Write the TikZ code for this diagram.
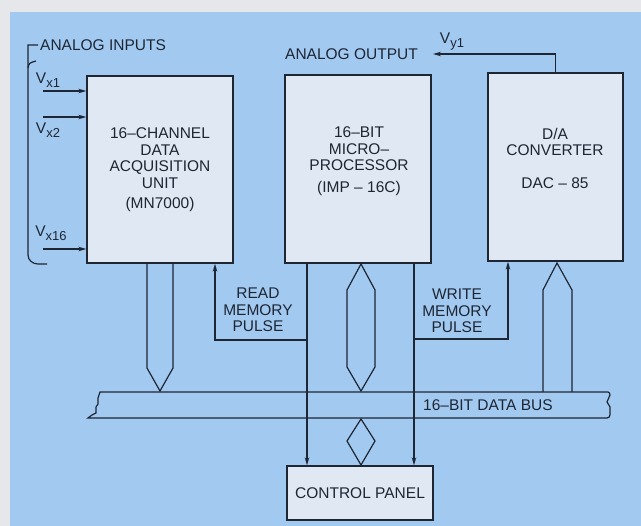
\documentclass[tikz,border=0pt]{standalone}
\usepackage{fontspec}
\setmainfont{Liberation Sans}
\usetikzlibrary{arrows.meta}
\definecolor{bgblue}{RGB}{162,201,240}
\definecolor{edgegray}{RGB}{230,231,234}
\definecolor{boxfill}{RGB}{224,232,243}
\definecolor{ink}{RGB}{30,38,52}
\newcommand{\sbs}[1]{{\fontsize{13}{13}\selectfont\raisebox{-4pt}{#1}}}
\begin{document}
\begin{tikzpicture}[x=1pt,y=-1pt,
  box/.style={draw=ink, fill=boxfill, line width=1.3pt, inner sep=0pt},
  lbl/.style={text=ink, font=\fontsize{15.5}{16.5}\selectfont, align=center, inner sep=0pt},
  wire/.style={draw=ink, line width=1.2pt},
  arr/.style={wire, -{Stealth[length=8pt,width=4.5pt]}}]
\useasboundingbox (0,0) rectangle (641,526);
\fill[edgegray] (0,0) rectangle (641,526);
\fill[bgblue] (10,12) rectangle (641,526);

% boxes
\node[box, minimum width=146pt, minimum height=187pt] (daq) at (160,169.5) {};
\node[box, minimum width=146pt, minimum height=188pt] (mpu) at (358,169) {};
\node[box, minimum width=135pt, minimum height=188pt] (dac) at (555.5,167) {};
\node[box, minimum width=146pt, minimum height=54pt] (cp) at (360,493) {};

% box texts
\node[lbl] (daqt) at (160,170) {16–CHANNEL\\DATA\\ACQUISITION\\UNIT\\[4pt](MN7000)};
\node[lbl] (mput) at (359,161) {16–BIT\\MICRO–\\PROCESSOR\\[5pt](IMP – 16C)};
\node[lbl] (dact) at (555,158) {D/A\\CONVERTER\\[16pt]DAC – 85};
\node[lbl] (cpt) at (360,493) {CONTROL PANEL};

% analog inputs
\node[lbl, anchor=west] (ain) at (40,45) {ANALOG INPUTS};
\draw[wire] (ain.west) ++(-2,0) -- (28,45) -- (28,255) to[out=270,in=180] (38,264) -- (47,264);
\draw[wire] (28,68) .. controls (29,63) .. (36,61);
\node[lbl] (vx1) at (48,80) {V\sbs{x1}};
\node[lbl] (vx2) at (48,130) {V\sbs{x2}};
\node[lbl] (vx16) at (51,233) {V\sbs{x16}};
\coordinate (in1) at (43,91);
\coordinate (in2) at (43,117);
\coordinate (in16) at (43,249);
\draw[arr] (in1) -- (in1 -| daq.west);
\draw[arr] (in2) -- (in2 -| daq.west);
\draw[arr] (in16) -- (in16 -| daq.west);

% analog output
\node[lbl, anchor=east] (aout) at (418,54) {ANALOG OUTPUT};
\node[lbl] (vy1) at (452,42) {V\sbs{y1}};
\coordinate (outend) at (433,54);
\draw[arr] (dac.north) |- (outend);

% data bus
\draw[wire] (100,392) -- (608,392) to[out=0,in=100] (610,395) -- (607,402) -- (610,407) -- (610,415) to[out=-90,in=0] (607,418) -- (88,418)
  -- (92,415) -- (96,413) -- (96,407) -- (98,404) -- (98,398) -- cycle;
\node[lbl, anchor=west] (bust) at (423,405) {16–BIT DATA BUS};

% bus connectors
\draw[wire] (147,263) -- (147,368) -- (160,391) -- (173,368) -- (173,263);
\draw[wire] (361,264) -- (375,290) -- (375,367) -- (361,391) -- (347,367) -- (347,290) -- cycle;
\draw[wire] (543,392) -- (543,290) -- (557,263) -- (572,290) -- (572,392);
\draw[wire] (361,419) -- (375,441) -- (361,465) -- (347,441) -- cycle;

% read / write lines
\coordinate (rdx) at (307,340);
\coordinate (rdk) at (215,340);
\coordinate (wrx) at (414,339);
\coordinate (wrk) at (508,339);
\draw[arr] (mpu.south -| rdx) -- (cp.north -| rdx);
\draw[arr] (mpu.south -| wrx) -- (cp.north -| wrx);
\draw[arr] (rdx) -- (rdk) -- (rdk |- daq.south);
\draw[arr] (wrx) -- (wrk) -- (wrk |- dac.south);
\node[lbl] (rmp) at (258,310) {READ\\MEMORY\\PULSE};
\node[lbl] (wmp) at (457,311) {WRITE\\MEMORY\\PULSE};
\end{tikzpicture}
\end{document}
